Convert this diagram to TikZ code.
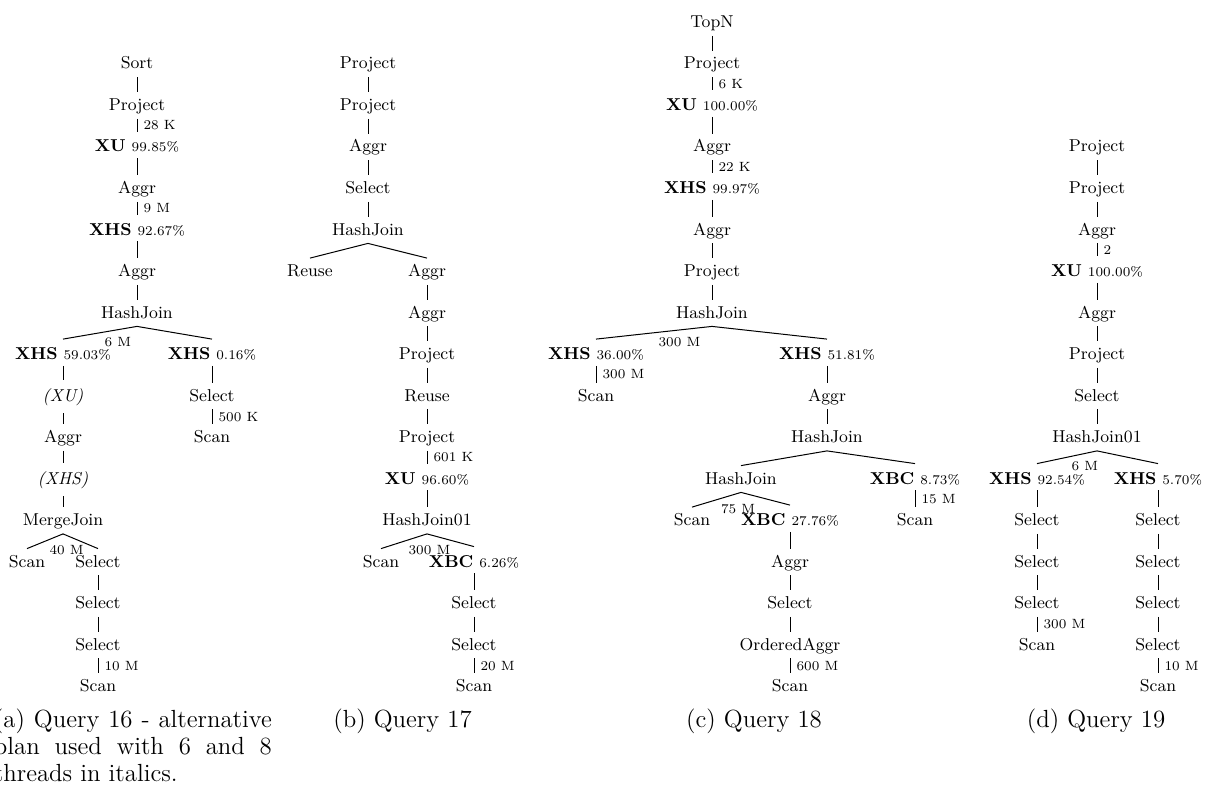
\documentclass[tikz,border=0pt]{standalone}
\usepackage{tikz}

% type sizes for operator names, row counts and sub-captions
\newcommand\opfont{\fontsize{8.6}{10}\selectfont}
\newcommand\numfont{\fontsize{6.7}{8}\selectfont}
\newcommand\capfont{\fontsize{12.4}{13.6}\selectfont}
% exchange operator with its share of the time
\newcommand\xlab[2]{\textbf{#1} {\numfont #2\%}}

\tikzset{
  op/.style={font=\opfont, inner sep=0pt, text height=9pt, text depth=4pt, anchor=base},
  xr/.style={op, text height=10pt, text depth=3pt},
  itr/.style={op, font=\opfont\itshape, text height=10.5pt, text depth=6pt},
  cnt/.style={font=\numfont, anchor=west, inner xsep=3pt, inner ysep=0pt},
  bcnt/.style={font=\numfont, anchor=north west, inner sep=2pt},
  link/.style={line width=0.5pt},
  subcap/.style={font=\capfont, inner sep=0pt, anchor=base},
}

\begin{document}
\begin{tikzpicture}[x=0.5pt,y=0.5pt]
\useasboundingbox (0,0) rectangle (1210,-792);

% ---------------- (a) Query 16 ----------------
\node[op] (a0) at (137,-69) {Sort};
\node[op] (a1) at (137,-110.5) {Project};
\node[xr] (a2) at (137,-152) {\xlab{XU}{99.85}};
\node[op] (a3) at (137,-193.5) {Aggr};
\node[xr] (a4) at (137,-235) {\xlab{XHS}{92.67}};
\node[op] (a5) at (137,-276.5) {Aggr};
\node[op] (a6) at (137,-318) {HashJoin};
\node[xr] (a7l) at (63,-359.5) {\xlab{XHS}{59.03}};
\node[xr] (a7r) at (212,-359.5) {\xlab{XHS}{0.16}};
\node[itr] (a8l) at (63,-401) {(XU)};
\node[op] (a9l) at (63,-442.5) {Aggr};
\node[itr] (a10l) at (63,-484) {(XHS)};
\node[op] (a11l) at (63,-525.5) {MergeJoin};
\node[op] (a8r) at (212,-401) {Select};
\node[op] (a9r) at (212,-442.5) {Scan};
\node[op] (a12l) at (27,-567) {Scan};
\node[op] (a12r) at (98,-567) {Select};
\node[op] (a13) at (98,-608.5) {Select};
\node[op] (a14) at (98,-650) {Select};
\node[op] (a15) at (98,-691.5) {Scan};

\draw[link] (a0.south) -- (a1.north);
\draw[link] (a1.south) -- node[cnt]{28 K} (a2.north);
\draw[link] (a2.south) -- (a3.north);
\draw[link] (a3.south) -- node[cnt]{9 M} (a4.north);
\draw[link] (a4.south) -- (a5.north);
\draw[link] (a5.south) -- (a6.north);
\draw[link] (a6.south) -- node[bcnt]{6 M} (a7l.north);
\draw[link] (a6.south) -- (a7r.north);
\draw[link] (a7l.south) -- (a8l.north);
\draw[link] (a8l.south) -- (a9l.north);
\draw[link] (a9l.south) -- (a10l.north);
\draw[link] (a10l.south) -- (a11l.north);
\draw[link] (a11l.south) -- node[bcnt]{40 M} (a12l.north);
\draw[link] (a11l.south) -- (a12r.north);
\draw[link] (a12r.south) -- (a13.north);
\draw[link] (a13.south) -- (a14.north);
\draw[link] (a14.south) -- node[cnt]{10 M} (a15.north);
\draw[link] (a7r.south) -- (a8r.north);
\draw[link] (a8r.south) -- node[cnt]{500 K} (a9r.north);

\node[subcap, anchor=base west] (capa1) at (-6.5,-727) {\makebox[139pt][s]{(a) Query 16 - alternative}};
\node[subcap, anchor=base west] (capa2) at (-6.5,-754) {\makebox[139pt][s]{plan used with 6 and 8}};
\node[subcap, anchor=base west] (capa3) at (-6.5,-781) {threads in italics.};

% ---------------- (b) Query 17 ----------------
\node[op] (b0) at (368,-69) {Project};
\node[op] (b1) at (368,-110.5) {Project};
\node[op] (b2) at (368,-152) {Aggr};
\node[op] (b3) at (368,-193.5) {Select};
\node[op] (b4) at (368,-235) {HashJoin};
\node[op] (b5l) at (310,-276.5) {Reuse};
\node[op] (b5r) at (427,-276.5) {Aggr};
\node[op] (b6) at (427,-318) {Aggr};
\node[op] (b7) at (427,-359.5) {Project};
\node[op] (b8) at (427,-401) {Reuse};
\node[op] (b9) at (427,-442.5) {Project};
\node[xr] (b10) at (427,-484) {\xlab{XU}{96.60}};
\node[op] (b11) at (427,-525.5) {HashJoin01};
\node[op] (b12l) at (381,-567) {Scan};
\node[xr] (b12r) at (474,-567) {\xlab{XBC}{6.26}};
\node[op] (b13) at (474,-608.5) {Select};
\node[op] (b14) at (474,-650) {Select};
\node[op] (b15) at (474,-691.5) {Scan};

\draw[link] (b0.south) -- (b1.north);
\draw[link] (b1.south) -- (b2.north);
\draw[link] (b2.south) -- (b3.north);
\draw[link] (b3.south) -- (b4.north);
\draw[link] (b4.south) -- (b5l.north);
\draw[link] (b4.south) -- (b5r.north);
\draw[link] (b5r.south) -- (b6.north);
\draw[link] (b6.south) -- (b7.north);
\draw[link] (b7.south) -- (b8.north);
\draw[link] (b8.south) -- (b9.north);
\draw[link] (b9.south) -- node[cnt]{601 K} (b10.north);
\draw[link] (b10.south) -- (b11.north);
\draw[link] (b11.south) -- node[bcnt]{300 M} (b12l.north);
\draw[link] (b11.south) -- (b12r.north);
\draw[link] (b12r.south) -- (b13.north);
\draw[link] (b13.south) -- (b14.north);
\draw[link] (b14.south) -- node[cnt]{20 M} (b15.north);

\node[subcap] (capb) at (402.5,-727) {(b) Query 17};

% ---------------- (c) Query 18 ----------------
\node[op] (c0) at (712,-27.5) {TopN};
\node[op] (c1) at (712,-69) {Project};
\node[xr] (c2) at (712,-110.5) {\xlab{XU}{100.00}};
\node[op] (c3) at (712,-152) {Aggr};
\node[xr] (c4) at (712,-193.5) {\xlab{XHS}{99.97}};
\node[op] (c5) at (712,-235) {Aggr};
\node[op] (c6) at (712,-276.5) {Project};
\node[op] (c7) at (712,-318) {HashJoin};
\node[xr] (c8l) at (596,-359.5) {\xlab{XHS}{36.00}};
\node[xr] (c8r) at (827,-359.5) {\xlab{XHS}{51.81}};
\node[op] (c9l) at (596,-401) {Scan};
\node[op] (c9r) at (827,-401) {Aggr};
\node[op] (c10) at (827,-442.5) {HashJoin};
\node[op] (c11l) at (741,-484) {HashJoin};
\node[xr] (c11r) at (915,-484) {\xlab{XBC}{8.73}};
\node[op] (c12r) at (915,-525.5) {Scan};
\node[op] (c12a) at (692,-525.5) {Scan};
\node[xr] (c12b) at (790,-525.5) {\xlab{XBC}{27.76}};
\node[op] (c13) at (790,-567) {Aggr};
\node[op] (c14) at (790,-608.5) {Select};
\node[op] (c15) at (790,-650) {OrderedAggr};
\node[op] (c16) at (790,-691.5) {Scan};

\draw[link] (c0.south) -- (c1.north);
\draw[link] (c1.south) -- node[cnt]{6 K} (c2.north);
\draw[link] (c2.south) -- (c3.north);
\draw[link] (c3.south) -- node[cnt]{22 K} (c4.north);
\draw[link] (c4.south) -- (c5.north);
\draw[link] (c5.south) -- (c6.north);
\draw[link] (c6.south) -- (c7.north);
\draw[link] (c7.south) -- node[bcnt]{300 M} (c8l.north);
\draw[link] (c7.south) -- (c8r.north);
\draw[link] (c8l.south) -- node[cnt]{300 M} (c9l.north);
\draw[link] (c8r.south) -- (c9r.north);
\draw[link] (c9r.south) -- (c10.north);
\draw[link] (c10.south) -- (c11l.north);
\draw[link] (c10.south) -- (c11r.north);
\draw[link] (c11r.south) -- node[cnt]{15 M} (c12r.north);
\draw[link] (c11l.south) -- node[bcnt]{75 M} (c12a.north);
\draw[link] (c11l.south) -- (c12b.north);
\draw[link] (c12b.south) -- (c13.north);
\draw[link] (c13.south) -- (c14.north);
\draw[link] (c14.south) -- (c15.north);
\draw[link] (c15.south) -- node[cnt]{600 M} (c16.north);

\node[subcap] (capc) at (754,-727) {(c) Query 18};

% ---------------- (d) Query 19 ----------------
\node[op] (d0) at (1097,-152) {Project};
\node[op] (d1) at (1097,-193.5) {Project};
\node[op] (d2) at (1097,-235) {Aggr};
\node[xr] (d3) at (1097,-276.5) {\xlab{XU}{100.00}};
\node[op] (d4) at (1097,-318) {Aggr};
\node[op] (d5) at (1097,-359.5) {Project};
\node[op] (d6) at (1097,-401) {Select};
\node[op] (d7) at (1097,-442.5) {HashJoin01};
\node[xr] (d8l) at (1037,-484) {\xlab{XHS}{92.54}};
\node[xr] (d8r) at (1158,-484) {\xlab{XHS}{5.70}};
\node[op] (d9l) at (1037,-525.5) {Select};
\node[op] (d10l) at (1037,-567) {Select};
\node[op] (d11l) at (1037,-608.5) {Select};
\node[op] (d12l) at (1037,-650) {Scan};
\node[op] (d9r) at (1158,-525.5) {Select};
\node[op] (d10r) at (1158,-567) {Select};
\node[op] (d11r) at (1158,-608.5) {Select};
\node[op] (d12r) at (1158,-650) {Select};
\node[op] (d13r) at (1158,-691.5) {Scan};

\draw[link] (d0.south) -- (d1.north);
\draw[link] (d1.south) -- (d2.north);
\draw[link] (d2.south) -- node[cnt]{2} (d3.north);
\draw[link] (d3.south) -- (d4.north);
\draw[link] (d4.south) -- (d5.north);
\draw[link] (d5.south) -- (d6.north);
\draw[link] (d6.south) -- (d7.north);
\draw[link] (d7.south) -- node[bcnt]{6 M} (d8l.north);
\draw[link] (d7.south) -- (d8r.north);
\draw[link] (d8l.south) -- (d9l.north);
\draw[link] (d9l.south) -- (d10l.north);
\draw[link] (d10l.south) -- (d11l.north);
\draw[link] (d11l.south) -- node[cnt]{300 M} (d12l.north);
\draw[link] (d8r.south) -- (d9r.north);
\draw[link] (d9r.south) -- (d10r.north);
\draw[link] (d10r.south) -- (d11r.north);
\draw[link] (d11r.south) -- (d12r.north);
\draw[link] (d12r.south) -- node[cnt]{10 M} (d13r.north);

\node[subcap] (capd) at (1096,-727) {(d) Query 19};

\end{tikzpicture}
\end{document}
